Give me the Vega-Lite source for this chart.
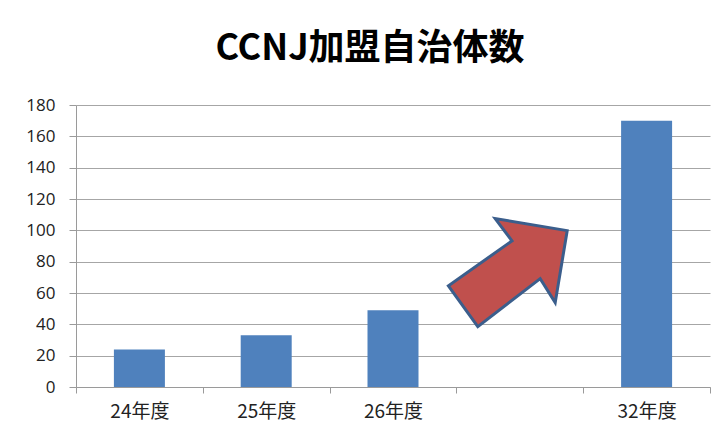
{
  "$schema": "https://vega.github.io/schema/vega-lite/v6.json",
  "autosize": "none",
  "width": 634,
  "height": 282,
  "padding": {"left": 76, "top": 105, "right": 13, "bottom": 48},
  "background": "white",
  "title": {
    "text": "CCNJ加盟自治体数",
    "font": "Noto Sans CJK JP",
    "fontSize": 36,
    "fontWeight": "bold",
    "color": "#000000",
    "anchor": "middle",
    "dx": -23,
    "offset": 28
  },
  "config": {
    "view": {"stroke": null},
    "axis": {
      "domainColor": "#9a9a9a",
      "tickColor": "#9a9a9a",
      "gridColor": "#a6a6a6"
    },
    "axisY": {
      "labelFont": "Open Sans",
      "labelFontSize": 17,
      "labelColor": "#222222",
      "labelOverlap": false,
      "tickSize": 7,
      "labelPadding": 14,
      "grid": true,
      "tickCount": 10
    }
  },
  "layer": [
    {
      "data": {
        "values": [
          {"year": "24年度", "count": 24},
          {"year": "25年度", "count": 33},
          {"year": "26年度", "count": 49},
          {"year": "32年度", "count": 170}
        ]
      },
      "mark": {"type": "bar", "color": "#4F81BD", "size": 51},
      "encoding": {
        "x": {
          "field": "year",
          "type": "nominal",
          "sort": null,
          "scale": {"domain": ["24年度", "25年度", "26年度", " ", "32年度"], "paddingInner": 0, "paddingOuter": 0},
          "axis": {
            "title": null,
            "labelAngle": 0,
            "labelFont": "Noto Sans CJK JP",
            "labelFontSize": 19,
            "labelColor": "#222222",
            "tickBand": "extent",
            "tickSize": 6,
            "labelPadding": 9,
            "grid": false
          }
        },
        "y": {
          "field": "count",
          "type": "quantitative",
          "scale": {"domain": [0, 180]},
          "axis": {
            "title": null,
            "values": [0, 20, 40, 60, 80, 100, 120, 140, 160, 180],
            "labelFontSize": 17,
            "labelOverlap": false
          }
        }
      }
    },
    {
      "data": {"values": [{"year": " ", "level": 73}]},
      "mark": {
        "type": "point",
        "shape": "M-0.7,0.9 L-1.19,0.22 L-0.13,-0.53 L-0.41,-0.9 L0.79,-0.7 L0.59,0.5 L0.34,0.1 Z",
        "size": 14400,
        "filled": true,
        "fill": "#C0504D",
        "fillOpacity": 1,
        "stroke": "#3B5E8C",
        "strokeWidth": 3,
        "opacity": 1
      },
      "encoding": {
        "x": {"field": "year", "type": "nominal"},
        "y": {
          "field": "level",
          "type": "quantitative",
          "axis": {
            "title": null,
            "values": [0, 20, 40, 60, 80, 100, 120, 140, 160, 180],
            "labelFontSize": 17,
            "labelOverlap": false
          }
        }
      }
    }
  ]
}
